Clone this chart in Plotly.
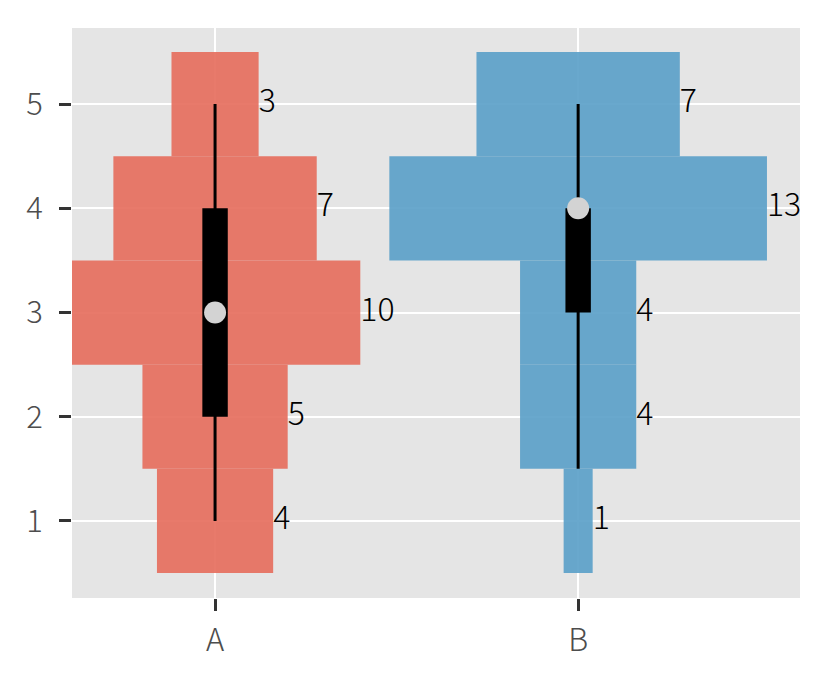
import plotly.graph_objects as go

groups = ["A", "B"]
levels = [1, 2, 3, 4, 5]
counts_A = [4, 5, 10, 7, 3]
counts_B = [1, 4, 4, 13, 7]
whisker_lo = [1, 1.5]
whisker_hi = [5, 5]
q1 = [2, 3]
q3 = [4, 4]
medians = [3, 4]

colors = ["rgba(229,108,91,0.9)", "rgba(89,159,200,0.9)"]
SCALE = 0.04   # half-width per count
BOXW = 0.035   # half-width of box

FONT = "Noto Sans CJK JP"
fig = go.Figure()

for i, (g, counts) in enumerate(zip(groups, [counts_A, counts_B])):
    center = i + 1
    fig.add_trace(go.Bar(
        orientation="h", y=levels, x=[2 * c * SCALE for c in counts],
        base=[center - c * SCALE for c in counts], width=1.0,
        marker=dict(color=colors[i], line=dict(width=0)),
        showlegend=False, hoverinfo="skip"))
    # whisker
    fig.add_trace(go.Scatter(
        x=[center, center], y=[whisker_lo[i], whisker_hi[i]], mode="lines",
        line=dict(color="black", width=3), showlegend=False, hoverinfo="skip"))
    # box
    fig.add_trace(go.Scatter(
        x=[center - BOXW, center + BOXW, center + BOXW, center - BOXW, center - BOXW],
        y=[q1[i], q1[i], q3[i], q3[i], q1[i]], mode="lines", fill="toself",
        fillcolor="black", line=dict(color="black", width=0),
        showlegend=False, hoverinfo="skip"))
    # median
    fig.add_trace(go.Scatter(
        x=[center], y=[medians[i]], mode="markers",
        marker=dict(color="#D3D3D3", size=22, line=dict(width=0)),
        showlegend=False, hoverinfo="skip"))
    # count labels
    fig.add_trace(go.Scatter(
        x=[center + c * SCALE for c in counts], y=levels, mode="text",
        text=[str(c) for c in counts], textposition="middle right",
        textfont=dict(family=FONT, size=32, color="black", weight=300),
        showlegend=False, hoverinfo="skip"))

fig.update_layout(
    width=823, height=675, barmode="overlay",
    plot_bgcolor="#E5E5E5", paper_bgcolor="white",
    margin=dict(l=64, r=31, t=20, b=85),
    font=dict(family=FONT, color="#4D4D4D"),
)
fig.update_xaxes(
    range=[0.606, 2.611], tickvals=[1, 2], ticktext=groups,
    showgrid=True, gridcolor="white", gridwidth=2, zeroline=False,
    ticks="outside", ticklen=12, tickwidth=3, tickcolor="#333333",
    ticklabelstandoff=3,
    tickfont=dict(family=FONT, size=31, color="#4D4D4D", weight=300))
fig.update_yaxes(
    range=[0.261, 5.73], tickvals=levels, ticktext=[str(v) for v in levels],
    showgrid=True, gridcolor="white", gridwidth=2, zeroline=False,
    ticks="outside", ticklen=12, tickwidth=3, tickcolor="#333333",
    ticklabelstandoff=10,
    tickfont=dict(family=FONT, size=31, color="#4D4D4D", weight=300))

fig.write_html("out.html")
